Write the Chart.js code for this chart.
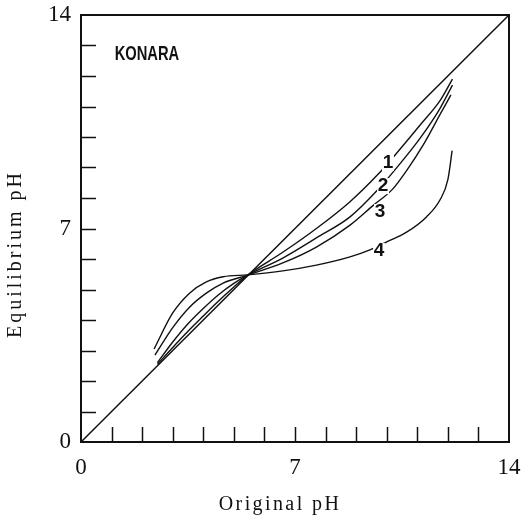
<!DOCTYPE html>
<html>
<head>
<meta charset="utf-8">
<script src="https://cdn.jsdelivr.net/npm/chart.js@4.4.1/dist/chart.umd.min.js"></script>
<style>
  html, body { margin: 0; padding: 0; background: #fff; }
  #wrap { width: 521px; height: 520px; }
</style>
</head>
<body>
<div id="wrap"><canvas id="myChart"></canvas></div>
<script>
// axis range and labelled ticks
var axisMin = 0, axisMax = 14;
var labelledTicks = [0, 7, 14];
var xTitle = "Original pH";
var yTitle = "Equilibrium pH";

// 1:1 reference line
var diagX = [0, 14];
var diagY = [0, 14];

// curves (original pH -> equilibrium pH)
var c1X = [2.5, 3.0, 3.5, 4.0, 4.5, 5.0, 5.45, 6.6, 7.7, 8.8, 9.7, 10.35, 11.1, 11.75, 12.15];
var c1Y = [2.55, 3.1, 3.63, 4.13, 4.62, 5.08, 5.47, 6.22, 7.0, 7.88, 8.76, 9.5, 10.4, 11.2, 11.9];
var c2X = [2.5, 3.0, 3.5, 4.0, 4.5, 5.0, 5.45, 6.6, 7.7, 8.8, 9.7, 10.35, 11.1, 11.75, 12.15];
var c2Y = [2.6, 3.28, 3.88, 4.38, 4.83, 5.2, 5.47, 6.03, 6.69, 7.38, 8.26, 9.02, 9.97, 10.95, 11.7];
var c3X = [2.42, 3.0, 3.55, 4.1, 4.65, 5.45, 6.6, 7.7, 8.8, 9.55, 10.2, 10.65, 11.2, 11.75, 12.1];
var c3Y = [2.85, 3.75, 4.42, 4.88, 5.21, 5.47, 5.87, 6.39, 7.11, 7.75, 8.3, 8.9, 9.75, 10.75, 11.38];
var c4X = [2.39, 3.0, 3.55, 4.1, 4.65, 5.45, 6.6, 7.7, 8.8, 9.45, 10.0, 10.65, 11.3, 11.75, 12.0, 12.14];
var c4Y = [3.05, 4.23, 4.88, 5.25, 5.42, 5.48, 5.61, 5.8, 6.07, 6.3, 6.56, 6.88, 7.38, 7.95, 8.6, 9.55];

// curve numbers and where they sit
var curveNames = ["1", "2", "3", "4"];
var nameX = [10.04, 9.88, 9.78, 9.75];
var nameY = [9.15, 8.39, 7.54, 6.26];

var panelTitle = "KONARA";
var titleX = 1.1, titleY = 12.7;

function pts(xs, ys) {
    return xs.map(function(x, i){ return {x: x, y: ys[i]}; });
}

function line(xs, ys, w) {
    return {
        data: pts(xs, ys),
        showLine: true,
        borderColor: '#111',
        borderWidth: w,
        pointRadius: 0,
        fill: false,
        cubicInterpolationMode: 'monotone'
    };
}

var serif = '"Liberation Serif", "DejaVu Serif", serif';

// frame, inward ticks, axis titles and text labels
var decorations = {
    id: 'decorations',
    afterDatasetsDraw: function(chart) {
        var ctx = chart.ctx, a = chart.chartArea;
        var xs = chart.scales.x, ys = chart.scales.y;
        ctx.save();
        ctx.strokeStyle = '#111';
        ctx.lineWidth = 1.5;
        for (var v = axisMin + 1; v < axisMax; v++) {
            var px = Math.round(xs.getPixelForValue(v)) + 0.5;
            ctx.beginPath(); ctx.moveTo(px, a.bottom); ctx.lineTo(px, a.bottom - 15); ctx.stroke();
            var py = Math.round(ys.getPixelForValue(v)) + 0.5;
            ctx.beginPath(); ctx.moveTo(a.left, py); ctx.lineTo(a.left + 15, py); ctx.stroke();
        }
        ctx.lineWidth = 2;
        ctx.strokeRect(a.left, a.top, a.right - a.left, a.bottom - a.top);

        ctx.font = 'bold 19px "Liberation Sans", sans-serif';
        ctx.textAlign = 'center';
        ctx.textBaseline = 'middle';
        curveNames.forEach(function(n, i){
            var cx = xs.getPixelForValue(nameX[i]), cy = ys.getPixelForValue(nameY[i]);
            ctx.fillStyle = '#fff';
            ctx.fillRect(cx - 6, cy - 8, 12, 16);
            ctx.fillStyle = '#111';
            ctx.fillText(n, cx, cy);
        });

        // condensed panel name
        ctx.save();
        ctx.translate(xs.getPixelForValue(titleX), ys.getPixelForValue(titleY));
        ctx.scale(0.7, 1);
        ctx.font = 'bold 21px "Liberation Sans", sans-serif';
        ctx.textAlign = 'left';
        ctx.fillText(panelTitle, 0, 0);
        ctx.restore();

        // spaced-out axis titles
        ctx.font = '20px ' + serif;
        ctx.textAlign = 'center';
        ctx.letterSpacing = '2.4px';
        ctx.fillText(xTitle, 280, 505);
        ctx.translate(16, 254);
        ctx.rotate(-Math.PI / 2);
        ctx.letterSpacing = '3px';
        ctx.fillText(yTitle, 0, 0);
        ctx.restore();
    }
};

function fixedTicks(scale) {
    scale.ticks = [];
    for (var v = axisMin; v <= axisMax; v++) scale.ticks.push({value: v});
}

function noPadding(s) {
    s.paddingTop = 0; s.paddingBottom = 0; s.paddingLeft = 0; s.paddingRight = 0;
}

function tickText(v) {
    return labelledTicks.indexOf(v) >= 0 ? String(v) : '';
}

document.addEventListener('DOMContentLoaded', function(){
    var data = {
        datasets: [
            line(diagX, diagY, 1.5),
            line(c1X, c1Y, 1.4),
            line(c2X, c2Y, 1.4),
            line(c3X, c3Y, 1.4),
            line(c4X, c4Y, 1.4)
        ]
    };
    var options = {
        responsive: true,
        maintainAspectRatio: false,
        animation: false,
        layout: { padding: { left: 0, top: 15, right: 12, bottom: 0 } },
        plugins: { legend: { display: false }, tooltip: { enabled: false } },
        scales: {
            x: {
                type: 'linear', min: axisMin, max: axisMax,
                afterBuildTicks: fixedTicks,
                afterFit: function(s){ s.height = 78; noPadding(s); },
                grid: { display: false, drawTicks: false },
                border: { display: false },
                ticks: {
                    autoSkip: false, maxRotation: 0, padding: 12, color: '#111',
                    font: { family: serif, size: 23 },
                    callback: tickText
                }
            },
            y: {
                type: 'linear', min: axisMin, max: axisMax,
                afterBuildTicks: fixedTicks,
                afterFit: function(s){ s.width = 81; noPadding(s); },
                grid: { display: false, drawTicks: false },
                border: { display: false },
                ticks: {
                    autoSkip: false, padding: 10, color: '#111',
                    font: { family: serif, size: 23 },
                    callback: tickText
                }
            }
        }
    };

    var ctx = document.getElementById("myChart").getContext('2d');
    var myChart = new Chart(ctx, {
        type: 'scatter',
        data: data,
        options: options,
        plugins: [decorations]
    });
});
</script>
</body>
</html>
